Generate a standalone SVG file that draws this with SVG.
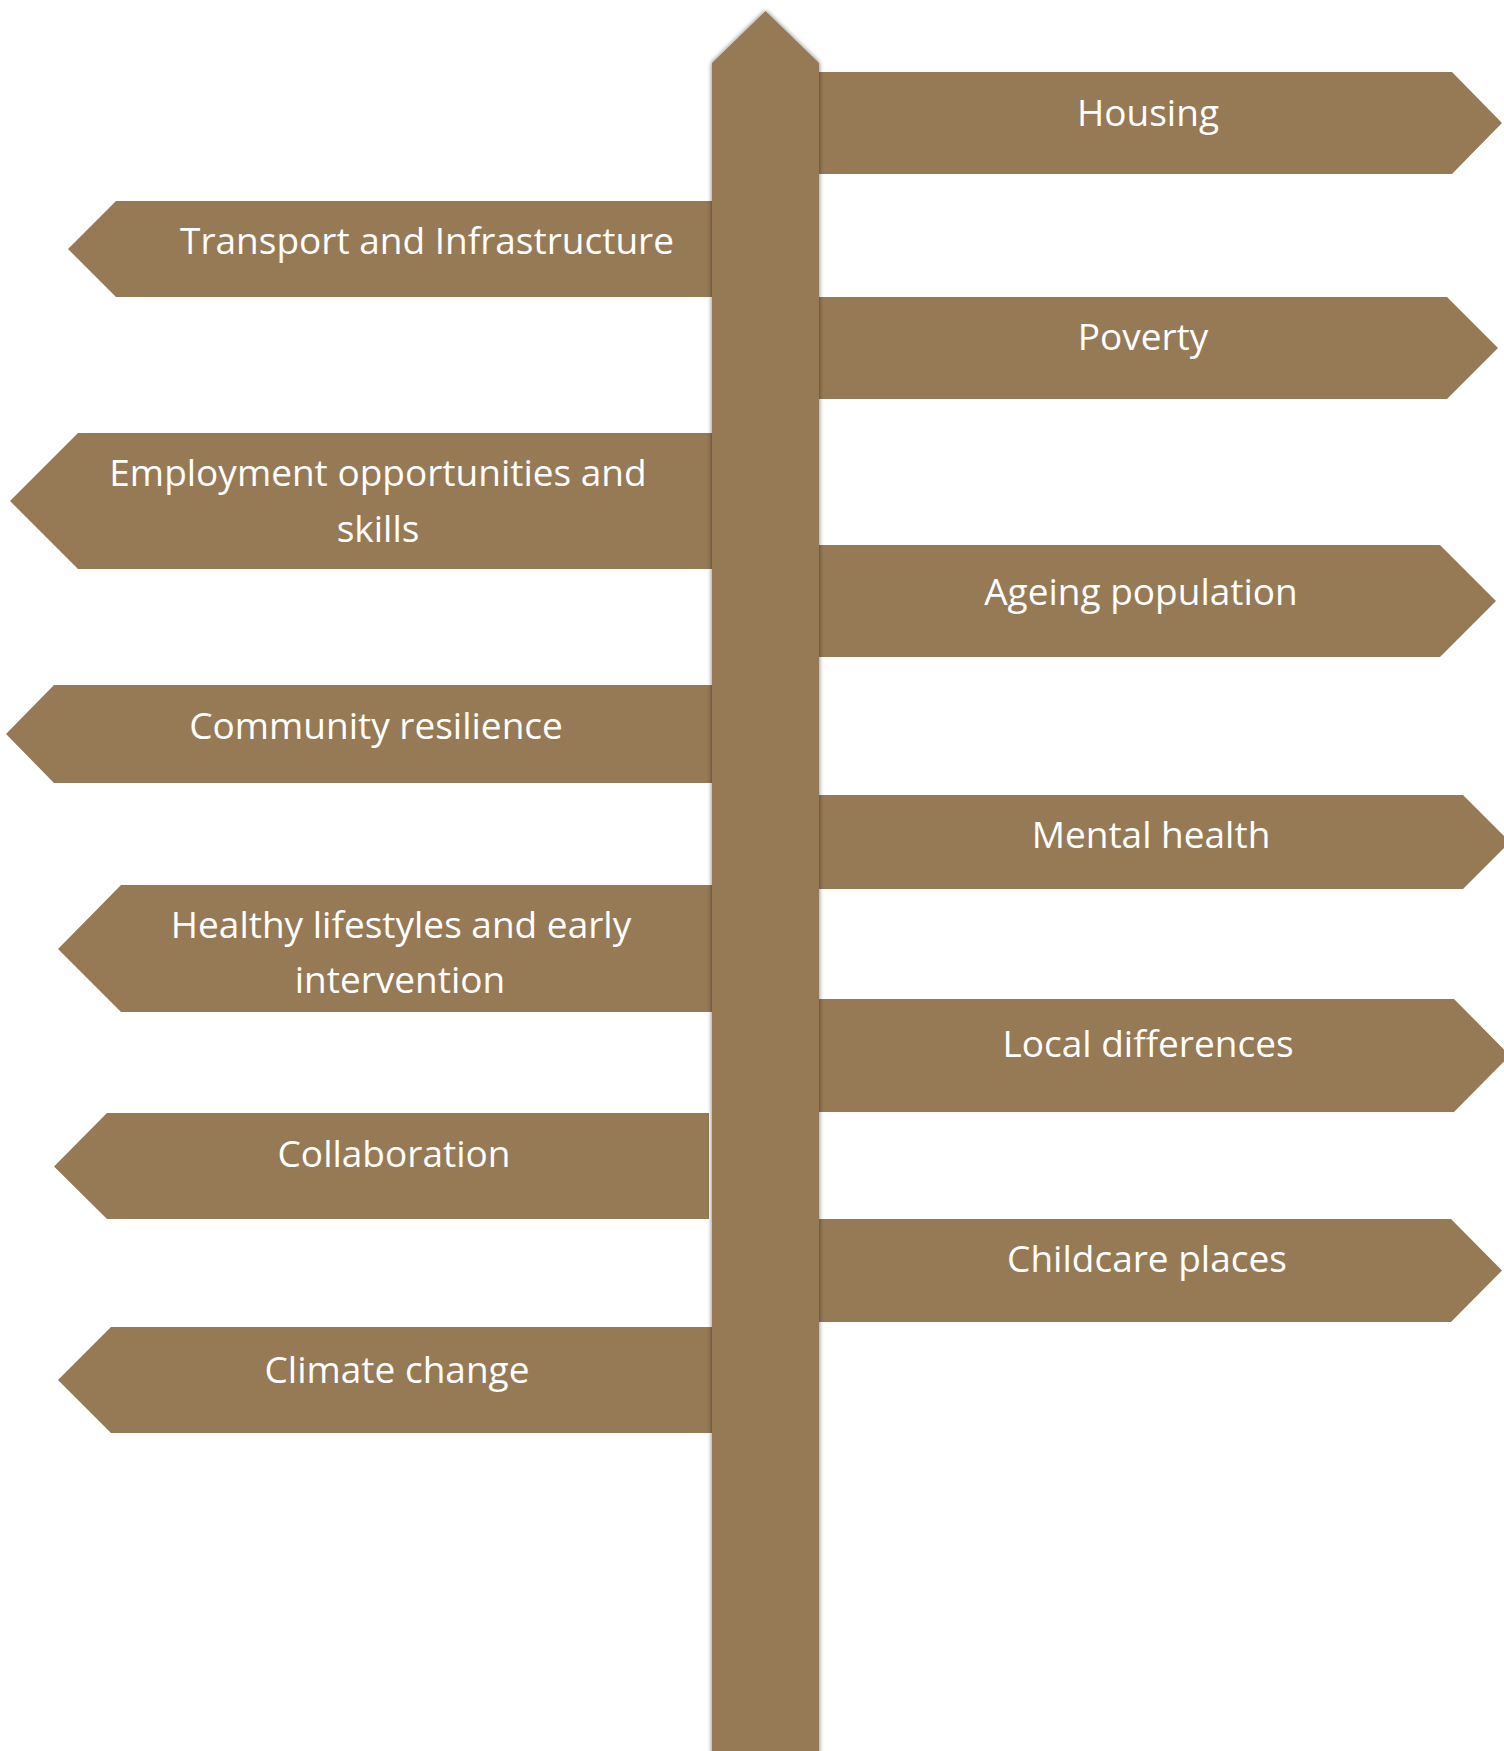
<svg xmlns="http://www.w3.org/2000/svg" width="1504" height="1751" viewBox="0 0 1504 1751">
<defs>
<filter id="sh" x="-20%" y="-5%" width="140%" height="110%">
<feGaussianBlur in="SourceAlpha" stdDeviation="2.5"/>
<feComponentTransfer><feFuncA type="linear" slope="0.55"/></feComponentTransfer>
<feMerge><feMergeNode/><feMergeNode in="SourceGraphic"/></feMerge>
</filter>
</defs>
<style>
.sign{fill:#967A56}
.lbl{fill:#ffffff;font-family:"Open Sans","Noto Sans",sans-serif;font-size:37px;text-anchor:middle}
</style>
<rect width="1504" height="1751" fill="#ffffff"/>
<g id="connectors"></g>
<g id="housing"><polygon class="sign" points="800,72 1452,72 1502,123 1452,174 800,174"/><text class="lbl" x="1148" y="126">Housing</text></g>
<g id="poverty"><polygon class="sign" points="800,297 1447,297 1498,348 1447,399 800,399"/><text class="lbl" x="1143" y="350">Poverty</text></g>
<g id="ageing"><polygon class="sign" points="800,545 1440,545 1496,601 1440,657 800,657"/><text class="lbl" x="1141" y="605">Ageing population</text></g>
<g id="mental"><polygon class="sign" points="800,795 1463,795 1510,842 1463,889 800,889"/><text class="lbl" x="1151" y="848">Mental health</text></g>
<g id="local"><polygon class="sign" points="800,999 1454,999 1510,1055.5 1454,1112 800,1112"/><text class="lbl" x="1148" y="1057">Local differences</text></g>
<g id="childcare"><polygon class="sign" points="800,1219 1451,1219 1502,1270.5 1451,1322 800,1322"/><text class="lbl" x="1147" y="1272">Childcare places</text></g>
<g id="transport"><polygon class="sign" points="730,201 116,201 68,249 116,297 730,297"/><text class="lbl" x="427" y="254">Transport and Infrastructure</text></g>
<g id="employment"><polygon class="sign" points="730,433 78,433 10,501 78,569 730,569"/><text class="lbl" x="378" y="486">Employment opportunities and</text><text class="lbl" x="378" y="542">skills</text></g>
<g id="community"><polygon class="sign" points="730,685 54,685 6,734 54,783 730,783"/><text class="lbl" x="376" y="739">Community resilience</text></g>
<g id="healthy"><polygon class="sign" points="730,885 121,885 58,949 121,1012 730,1012"/><text class="lbl" x="401" y="938">Healthy lifestyles and early</text><text class="lbl" x="400" y="993">intervention</text></g>
<g id="collaboration"><polygon class="sign" points="709,1113 107,1113 54,1166.5 107,1219 709,1219"/><text class="lbl" x="394" y="1167">Collaboration</text></g>
<g id="climate"><polygon class="sign" points="730,1327 111,1327 58,1380 111,1433 730,1433"/><text class="lbl" x="397" y="1383">Climate change</text></g>
<g id="post"><polygon class="sign" filter="url(#sh)" points="712,63 765.5,11 819,63 819,1760 712,1760"/></g>
</svg>
